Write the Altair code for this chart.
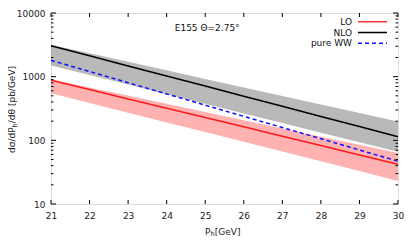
import altair as alt
import pandas as pd

# Data (P_h in GeV, cross sections in pb/GeV)
P = [21, 22, 23, 24, 25, 26, 27, 28, 29, 30]
nlo = [3070, 2130, 1476, 1026, 711, 493, 342, 237, 165, 114]
nlo_hi = [3177, 2333, 1714, 1256, 923, 678, 498, 366, 268, 197]
nlo_lo = [1500, 1059, 750, 530, 374, 265, 187, 132, 93.5, 66]
lo = [877, 627, 447, 319, 228, 163, 116, 83, 59, 42]
lo_hi = [912, 678, 504, 374, 278, 207, 154, 114, 85, 63]
lo_lo = [548, 386, 272, 191, 135, 95, 67, 47, 33, 23]
ww = [1807, 1205, 804, 536, 357, 238, 159, 106, 70.5, 47]

x_ticks = [21, 22, 23, 24, 25, 26, 27, 28, 29, 30]
y_major = [10, 100, 1000, 10000]
y_minor = [m * d for d in (10, 100, 1000) for m in range(2, 10)]

legend_labels = ["LO", "NLO", "pure WW"]
annot_text = "E155 Θ=2.75°"
annot_x = [25.05]
annot_y = [5800]
xtitle_parts = ["P", "h", "[GeV]"]
ytitle_parts = ["dσ/dP", "h", "/dθ [pb/GeV]"]

FONT = "DejaVu Sans"
W, H = 347, 191

df = pd.DataFrame({"P": P, "nlo": nlo, "nlo_hi": nlo_hi, "nlo_lo": nlo_lo,
                   "lo": lo, "lo_hi": lo_hi, "lo_lo": lo_lo, "ww": ww})

xs = alt.Scale(domain=[21, 30], nice=False, zero=False)
ys = alt.Scale(type="log", domain=[10, 10000], nice=False)

xaxis = alt.Axis(values=x_ticks, ticks=False, tickSize=0, domain=False, grid=False,
                 labelOverlap=False, labelFlush=False, labelPadding=7, labelFont=FONT,
                 labelFontSize=9, labelColor="#222", title="")
yaxis = alt.Axis(values=y_major, ticks=False, tickSize=0, domain=False, grid=False,
                 labelOverlap=False, labelFlush=False, labelPadding=6, labelFont=FONT,
                 labelFontSize=9, labelColor="#222", format="d", title="")

base = alt.Chart(df)

lo_band = base.mark_area(color="#ff6666", opacity=0.5).encode(
    x=alt.X("P:Q", scale=xs, axis=xaxis),
    y=alt.Y("lo_lo:Q", scale=ys, axis=yaxis),
    y2="lo_hi:Q")
nlo_band = base.mark_area(color="#8a8a8a", opacity=0.6).encode(
    x=alt.X("P:Q", scale=xs, axis=xaxis), y=alt.Y("nlo_lo:Q", scale=ys, axis=yaxis),
    y2="nlo_hi:Q")
lo_line = base.mark_line(color="#ff1a1a", strokeWidth=1.5).encode(
    x=alt.X("P:Q", scale=xs, axis=xaxis), y=alt.Y("lo:Q", scale=ys, axis=yaxis))
nlo_line = base.mark_line(color="#000000", strokeWidth=1.5).encode(
    x=alt.X("P:Q", scale=xs, axis=xaxis), y=alt.Y("nlo:Q", scale=ys, axis=yaxis))
ww_line = base.mark_line(color="#1010ff", strokeWidth=1.5, strokeDash=[4, 3]).encode(
    x=alt.X("P:Q", scale=xs, axis=xaxis), y=alt.Y("ww:Q", scale=ys, axis=yaxis))

xt = alt.Chart(pd.DataFrame({"t": x_ticks}))
xtick_b = xt.mark_rule(color="#000", strokeWidth=1).encode(
    x=alt.X("t:Q", scale=xs, axis=xaxis), y=alt.value(H), y2=alt.value(H - 4))
xtick_t = xt.mark_rule(color="#000", strokeWidth=1).encode(
    x=alt.X("t:Q", scale=xs, axis=xaxis), y=alt.value(0), y2=alt.value(4))

ymaj = alt.Chart(pd.DataFrame({"t": y_major}))
ymin = alt.Chart(pd.DataFrame({"t": y_minor}))
ytick_l = ymaj.mark_rule(color="#000").encode(
    y=alt.Y("t:Q", scale=ys, axis=yaxis), x=alt.value(0), x2=alt.value(5))
ytick_r = ymaj.mark_rule(color="#000").encode(
    y=alt.Y("t:Q", scale=ys, axis=yaxis), x=alt.value(W), x2=alt.value(W - 5))
ymin_l = ymin.mark_rule(color="#000").encode(
    y=alt.Y("t:Q", scale=ys, axis=yaxis), x=alt.value(0), x2=alt.value(2.5))
ymin_r = ymin.mark_rule(color="#000").encode(
    y=alt.Y("t:Q", scale=ys, axis=yaxis), x=alt.value(W), x2=alt.value(W - 2.5))

annot = alt.Chart(pd.DataFrame({"x": annot_x, "y": annot_y, "t": [annot_text]})).mark_text(
    font=FONT, fontSize=9, color="#111", align="center", baseline="middle").encode(
    x=alt.X("x:Q", scale=xs, axis=xaxis), y=alt.Y("y:Q", scale=ys, axis=yaxis), text="t:N")


def txt(s, x, y, size=9, angle=0):
    return alt.Chart(pd.DataFrame({"t": [s]})).mark_text(
        font=FONT, fontSize=size, color="#222", align="left", baseline="middle",
        angle=angle).encode(text="t:N", x=alt.value(x), y=alt.value(y))


# axis titles with real subscripts
xt_y = H + 27.5
x_title = [txt(xtitle_parts[0], 154, xt_y),
           txt(xtitle_parts[1], 159.6, xt_y + 2.5, size=6.5),
           txt(xtitle_parts[2], 163.8, xt_y)]
yt_x = -39
y_title = [txt(ytitle_parts[0], yt_x, 140, angle=270),
           txt(ytitle_parts[1], yt_x + 2.5, 140 - 25.6, size=6.5, angle=270),
           txt(ytitle_parts[2], yt_x, 140 - 29.8, angle=270)]

# manual legend (top right)
leg_colors = ["#ff3333", "#000000", "#1010ff"]
leg_dash = [[1, 0], [1, 0], [4, 3]]
leg_layers = []
for i, (lab, col, dash) in enumerate(zip(legend_labels, leg_colors, leg_dash)):
    yy = 8.7 + i * 10.8
    leg_layers.append(alt.Chart(pd.DataFrame({"t": [lab]})).mark_text(
        font=FONT, fontSize=9, color="#111", align="right", baseline="middle").encode(
        text="t:N", x=alt.value(301), y=alt.value(yy)))
    leg_layers.append(alt.Chart(pd.DataFrame({"t": [lab]})).mark_rule(
        color=col, strokeWidth=1.5, strokeDash=dash).encode(
        x=alt.value(307), x2=alt.value(336), y=alt.value(yy)))

chart = alt.layer(
    lo_band, nlo_band, lo_line, nlo_line, ww_line,
    xtick_b, xtick_t, ytick_l, ytick_r, ymin_l, ymin_r, annot,
    *x_title, *y_title, *leg_layers
).properties(
    width=W, height=H,
    autosize=alt.AutoSizeParams(type="none"),
    padding={"left": 43, "top": 5, "right": 9, "bottom": 37},
).configure_view(stroke="#000", strokeWidth=1).configure_axis(
    labelOverlap=False, labelFlush=False
).configure(background="white")

chart.save("out.html", embed_options={"renderer": "svg", "actions": False})
